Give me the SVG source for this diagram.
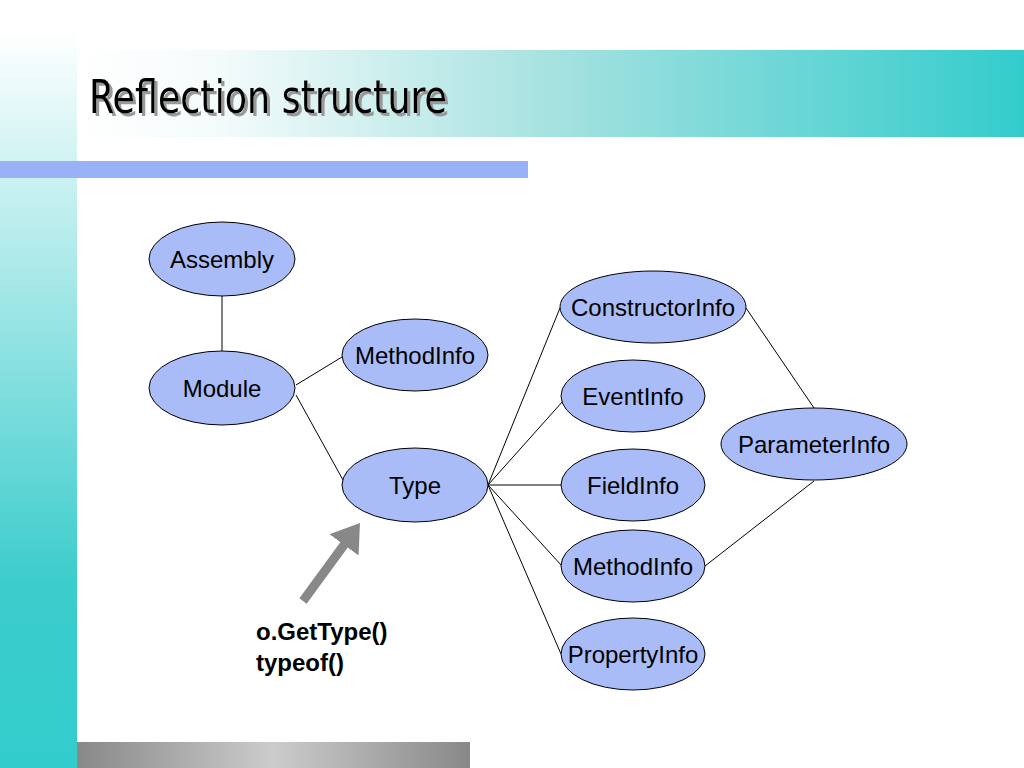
<svg xmlns="http://www.w3.org/2000/svg" width="1024" height="768" viewBox="0 0 1024 768">
<defs>
<linearGradient id="lg" x1="0" y1="0" x2="0" y2="1"><stop offset="0" stop-color="#fff"/><stop offset="0.75" stop-color="#3ccccc"/><stop offset="1" stop-color="#33cccc"/></linearGradient>
<linearGradient id="tg" x1="0" y1="0" x2="1" y2="0"><stop offset="0" stop-color="#fff"/><stop offset="0.15" stop-color="#f4fbfb"/><stop offset="0.5" stop-color="#a6e2e0"/><stop offset="1" stop-color="#33cccc"/></linearGradient>
<linearGradient id="gg" x1="0" y1="0" x2="1" y2="0"><stop offset="0" stop-color="#888"/><stop offset="0.5" stop-color="#ccc"/><stop offset="1" stop-color="#888"/></linearGradient>
<marker id="ah" markerWidth="4" markerHeight="4" refX="1.5" refY="2" orient="auto" markerUnits="strokeWidth"><path d="M0,0 L3,2 L0,4 z" fill="#888"/></marker>
<filter id="sh" x="-5%" y="-20%" width="110%" height="140%"><feDropShadow dx="3" dy="3" stdDeviation="0.5" flood-color="#999" flood-opacity="1"/></filter>
</defs>
<style>
.n ellipse{fill:#aabcf7;stroke:#000;stroke-width:1}
.n text{font-family:"Liberation Sans",Arial,sans-serif;font-size:24px;text-anchor:middle;fill:#000}
.c line{stroke:#000;stroke-width:1}
</style>
<rect width="1024" height="768" fill="#fff"/>
<rect x="0" y="30" width="77" height="738" fill="url(#lg)"/>
<rect x="77" y="50" width="947" height="87" fill="url(#tg)"/>
<rect x="0" y="161" width="528" height="17" fill="#99b2f7"/>
<rect x="77" y="742" width="393" height="26" fill="url(#gg)"/>
<text x="89" y="113" filter="url(#sh)" font-family="'DejaVu Sans Condensed','Liberation Sans Narrow',sans-serif" font-size="46" fill="#000" textLength="358" lengthAdjust="spacingAndGlyphs">Reflection structure</text>
<g class="c">
<line x1="222" y1="296" x2="222" y2="351"/>
<line x1="296" y1="385" x2="342" y2="357"/>
<line x1="296" y1="395" x2="343" y2="480"/>
<line x1="488" y1="485" x2="560" y2="308"/>
<line x1="488" y1="485" x2="563" y2="401"/>
<line x1="488" y1="485" x2="561" y2="485"/>
<line x1="488" y1="485" x2="562" y2="566"/>
<line x1="488" y1="485" x2="561" y2="654"/>
<line x1="746" y1="308" x2="814" y2="408"/>
<line x1="814" y1="481" x2="705" y2="566"/>
<line x1="303" y1="601" x2="352" y2="534" marker-end="url(#ah)" style="stroke:#888;stroke-width:9"/>
</g>
<g id="assembly" class="n"><ellipse cx="222" cy="259" rx="73" ry="37"/><text x="222" y="268">Assembly</text></g>
<g id="module" class="n"><ellipse cx="222" cy="388" rx="73" ry="37"/><text x="222" y="397">Module</text></g>
<g id="methodinfo1" class="n"><ellipse cx="415" cy="355" rx="73" ry="36"/><text x="415" y="364">MethodInfo</text></g>
<g id="type" class="n"><ellipse cx="415" cy="485" rx="73" ry="37"/><text x="415" y="494">Type</text></g>
<g id="constructorinfo" class="n"><ellipse cx="653" cy="307" rx="93" ry="36"/><text x="653" y="316">ConstructorInfo</text></g>
<g id="eventinfo" class="n"><ellipse cx="633" cy="396" rx="72" ry="36"/><text x="633" y="405">EventInfo</text></g>
<g id="fieldinfo" class="n"><ellipse cx="633" cy="485" rx="72" ry="36"/><text x="633" y="494">FieldInfo</text></g>
<g id="methodinfo2" class="n"><ellipse cx="633" cy="566" rx="72" ry="36"/><text x="633" y="575">MethodInfo</text></g>
<g id="propertyinfo" class="n"><ellipse cx="633" cy="654" rx="72" ry="36"/><text x="633" y="663">PropertyInfo</text></g>
<g id="parameterinfo" class="n"><ellipse cx="814" cy="444" rx="93" ry="36"/><text x="814" y="453">ParameterInfo</text></g>
<g id="label" font-family="'Liberation Sans',Arial,sans-serif" font-size="24" font-weight="bold">
<text x="256" y="640">o.GetType()</text>
<text x="256" y="671">typeof()</text>
</g>
</svg>
